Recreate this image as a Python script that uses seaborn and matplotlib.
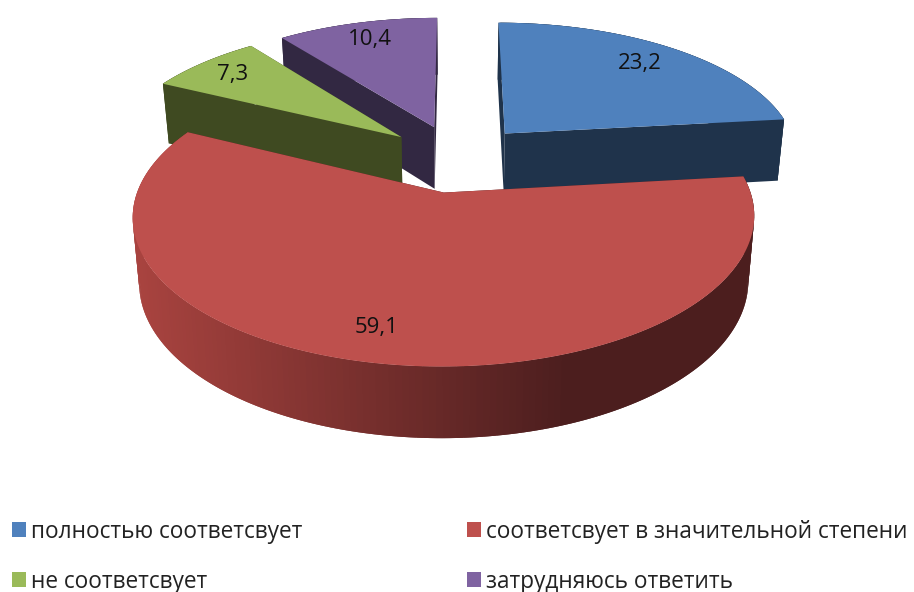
import numpy as np
import matplotlib
matplotlib.use("Agg")
import matplotlib.pyplot as plt
from matplotlib.patches import Patch
from matplotlib.colors import to_rgb
import seaborn as sns

categories = ["полностью соответсвует", "соответсвует в значительной степени",
              "не соответсвует", "затрудняюсь ответить"]
values = [23.2, 59.1, 7.3, 10.4]
value_labels = ["23,2", "59,1", "7,3", "10,4"]

top_colors = ["#4f81bd", "#be504d", "#9aba59", "#7f63a1"]
side_colors = ["#1f334b", "#4c1e1e", "#3f4a21", "#322842"]
red_side_light = "#a8433f"

sns.set_theme(style="white")
plt.rcParams["font.family"] = ["Open Sans", "DejaVu Sans"]

# projection of the 3D pie (style parameters)
CX, CY, AX_X, AX_Y, PERSP, DEPTH, SHRINK, EXPLODE = 457, 158, 295, 135, 0.155, 63, 0.02, 0.25
label_nudge = [(-1, 0), (-17, -3), (-8, 2), (-1, 2)]
draw_order = [0, 3, 2, 1]

fig = plt.figure(figsize=(9.14, 5.92), dpi=100, facecolor="white")
ax = fig.add_axes([0, 0, 1, 1])
ax.set_xlim(0, 914)
ax.set_ylim(592, 0)
ax.axis("off")


def project(u, v, low=False):
    w = 1 + PERSP * v
    x = AX_X * u / w
    y = CY - AX_Y * v / w
    if low:
        return CX + x * (1 - SHRINK), y + DEPTH / w ** 0.6
    return CX + x, y


frac = np.array(values) / sum(values) * 2 * np.pi
ends = np.cumsum(frac)
starts = ends - frac
mids = (starts + ends) / 2
offs = [(EXPLODE * np.sin(m), EXPLODE * np.cos(m)) for m in mids]


def lerp(a, b, t):
    a, b = np.array(to_rgb(a)), np.array(to_rgb(b))
    return tuple(a + (b - a) * t)


for i in draw_order:
    ou, ov = offs[i]
    t = np.linspace(starts[i], ends[i], 200)
    au, av = ou + np.sin(t), ov + np.cos(t)
    # radial cut faces
    for k in (0, -1):
        a0 = project(ou, ov)
        a1 = project(au[k], av[k])
        b1 = project(au[k], av[k], True)
        b0 = project(ou, ov, True)
        ax.fill([a0[0], a1[0], b1[0], b0[0]], [a0[1], a1[1], b1[1], b0[1]],
                color=side_colors[i], lw=0)
    # outer side: overlapping strips painted in order so no seams appear
    for j in range(len(t) - 1):
        k = min(j + 2, len(t) - 1)
        p0 = project(au[j], av[j])
        p1 = project(au[k], av[k])
        q1 = project(au[k], av[k], True)
        q0 = project(au[j], av[j], True)
        if i == 1:
            g = np.clip((p0[0] - 140) / 430, 0, 1)
            col = lerp(red_side_light, side_colors[i], g)
        else:
            col = side_colors[i]
        ax.fill([p0[0], p1[0], q1[0], q0[0]], [p0[1], p1[1], q1[1], q0[1]],
                color=col, lw=0)
    # top face
    xs, ys = project(np.r_[ou, au], np.r_[ov, av])
    ax.fill(xs, ys, color=top_colors[i], lw=0)

for i, lab in enumerate(value_labels):
    ou, ov = offs[i]
    x, y = project(ou + 0.8 * np.sin(mids[i]), ov + 0.8 * np.cos(mids[i]))
    ax.annotate(lab, (x, y), xytext=label_nudge[i], textcoords="offset pixels",
                ha="center", va="center", fontsize=16, color="#111111", zorder=5)

order = [0, 2, 1, 3]
handles = [Patch(facecolor=top_colors[i], edgecolor="none") for i in order]
labels = [categories[i] for i in order]
ax.legend(handles, labels, ncol=2, loc="lower left", bbox_to_anchor=(12 / 914, -0.003),
          bbox_transform=ax.transAxes, frameon=False, fontsize=16.3,
          handlelength=0.62, handleheight=0.62, handletextpad=0.2,
          labelspacing=1.15, columnspacing=7.3, borderpad=0, borderaxespad=0,
          labelcolor="#222222")

fig.savefig("out.png", dpi=100, facecolor="white")
